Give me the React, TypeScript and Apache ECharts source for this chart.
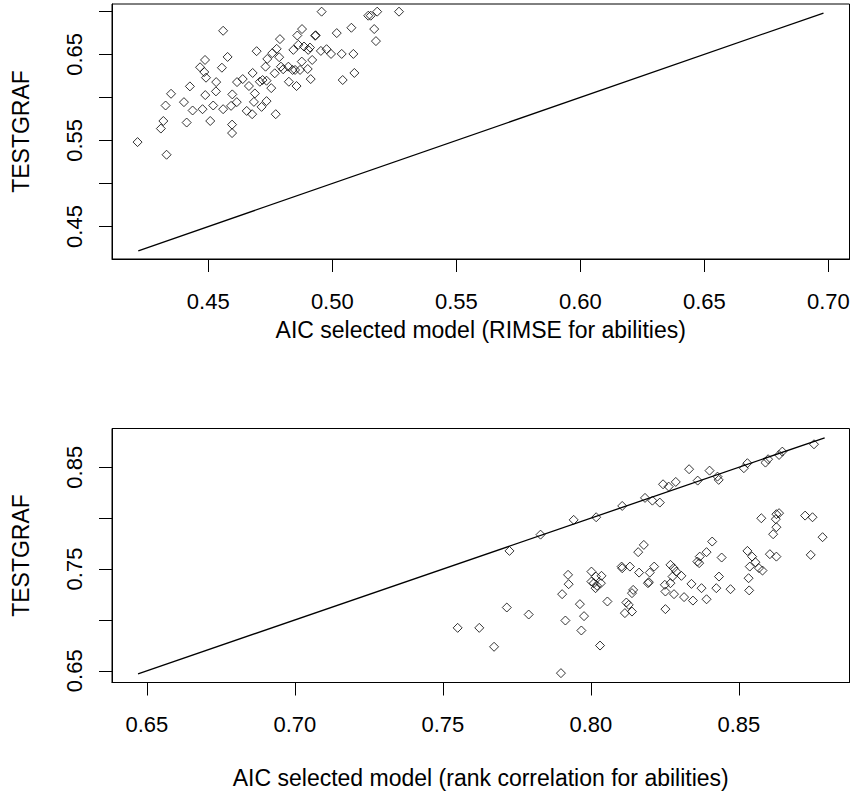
import React, { useEffect, useRef } from "react";
import * as echarts from "echarts";

// Top panel: AIC selected model (RIMSE for abilities) vs TESTGRAF
const topAic = [
  0.4215, 0.4332, 0.4309, 0.4319, 0.4328, 0.4350, 0.4426, 0.4402, 0.4413, 0.4437,
  0.4488, 0.4477, 0.4508, 0.4520, 0.4531, 0.4532, 0.4491, 0.4484, 0.4467, 0.4487,
  0.4555, 0.4578, 0.4560, 0.4560, 0.4596, 0.4596, 0.4592, 0.4597, 0.4615, 0.4616,
  0.4639, 0.4664, 0.4679, 0.4655, 0.4677, 0.4684, 0.4688, 0.4708, 0.4719, 0.4715,
  0.4735, 0.4735, 0.4754, 0.4772, 0.4695, 0.4731, 0.4738, 0.4758, 0.4776, 0.4789,
  0.4768, 0.4786, 0.4793, 0.4802, 0.4823, 0.4825, 0.4840, 0.4843, 0.4856, 0.4850,
  0.4859, 0.4878, 0.4863, 0.4877, 0.4870, 0.4886, 0.4903, 0.4910, 0.4901, 0.4913,
  0.4919, 0.4931, 0.4933, 0.4954, 0.4977, 0.4995, 0.5018, 0.5038, 0.5042, 0.5077,
  0.5085, 0.5089, 0.4957, 0.5145, 0.5155, 0.5181, 0.5169, 0.5176, 0.5269,
];
const topTestgraf = [
  0.5481, 0.5334, 0.5638, 0.5726, 0.5906, 0.6042, 0.6128, 0.5945, 0.5708, 0.5848,
  0.6027, 0.5863, 0.5726, 0.5906, 0.6070, 0.6178, 0.6229, 0.6295, 0.6350, 0.6435,
  0.6345, 0.6470, 0.6774, 0.5863, 0.5684, 0.5586, 0.5902, 0.6035, 0.5945, 0.6178,
  0.6213, 0.6132, 0.6284, 0.5843, 0.5805, 0.5948, 0.6046, 0.6182, 0.6202, 0.5890,
  0.5957, 0.6194, 0.6108, 0.5805, 0.6537, 0.6357, 0.6447, 0.6514, 0.6564, 0.6677,
  0.6280, 0.6467, 0.6357, 0.6327, 0.6357, 0.6182, 0.6319, 0.6552, 0.6132, 0.6319,
  0.6719, 0.6794, 0.6611, 0.6416, 0.6319, 0.6591, 0.6552, 0.6579, 0.6330, 0.6213,
  0.6435, 0.6716, 0.6722, 0.6540, 0.6560, 0.6505, 0.6747, 0.6505, 0.6202, 0.6809,
  0.6505, 0.6284, 0.6996, 0.6949, 0.6949, 0.6996, 0.6794, 0.6654, 0.6996,
];
const topLineEnds = [0.4218, 0.698];

// Bottom panel: AIC selected model (rank correlation for abilities) vs TESTGRAF
const bottomAic = [
  0.7725, 0.7830, 0.7942, 0.8018, 0.8106, 0.8183, 0.8208, 0.8233, 0.8244, 0.8263,
  0.8287, 0.8332, 0.8361, 0.8401, 0.8428, 0.8432, 0.8517, 0.8529, 0.8590, 0.8599,
  0.8636, 0.8647, 0.8754,
  0.8576, 0.8627, 0.8636, 0.8625, 0.8627, 0.8616, 0.8724, 0.8749, 0.8783, 0.8743,
  0.8605, 0.8627, 0.8529, 0.8545, 0.8537, 0.8556, 0.8568, 0.8580, 0.8533, 0.8410,
  0.8391, 0.8368, 0.8360, 0.8366, 0.8442, 0.8433, 0.8160, 0.8179, 0.8104, 0.8132,
  0.8163, 0.8199, 0.8214, 0.8196, 0.8269, 0.8280, 0.8289, 0.8306, 0.8276, 0.8250,
  0.8340, 0.8374, 0.8424, 0.8472, 0.7923, 0.8002, 0.8017, 0.8036, 0.8010, 0.8034,
  0.8143, 0.7550, 0.7623, 0.7673, 0.7716, 0.7790, 0.7899, 0.7903, 0.7925, 0.7914,
  0.7963, 0.7977, 0.7968, 0.8031, 0.8002, 0.8016, 0.8021, 0.8056, 0.8106, 0.8139,
  0.8120, 0.8128, 0.8115, 0.8139, 0.8193, 0.8252, 0.8252, 0.8269, 0.8281, 0.8315,
  0.8345, 0.8391, 0.8535,
];
const bottomTestgraf = [
  0.7678, 0.7838, 0.7983, 0.8009, 0.8120, 0.8199, 0.8172, 0.8153, 0.8333, 0.8310,
  0.8356, 0.8481, 0.8369, 0.8467, 0.8408, 0.8376, 0.8491, 0.8540, 0.8546, 0.8579,
  0.8621, 0.8654, 0.8726,
  0.7999, 0.8039, 0.8049, 0.7990, 0.7911, 0.7842, 0.8025, 0.8009, 0.7813, 0.7639,
  0.7646, 0.7622, 0.7678, 0.7622, 0.7524, 0.7567, 0.7509, 0.7485, 0.7410, 0.7770,
  0.7666, 0.7622, 0.7573, 0.7558, 0.7613, 0.7426, 0.7666, 0.7737, 0.7524, 0.7524,
  0.7465, 0.7465, 0.7524, 0.7371, 0.7541, 0.7509, 0.7475, 0.7433, 0.7426, 0.7345,
  0.7354, 0.7312, 0.7312, 0.7302, 0.7443, 0.7475, 0.7426, 0.7433, 0.7361, 0.7361,
  0.7295, 0.6922, 0.6922, 0.6736, 0.7122, 0.7053, 0.6477, 0.7253, 0.7351, 0.6994,
  0.7155, 0.7037, 0.6896, 0.6748, 0.7377, 0.7312, 0.7335, 0.7181, 0.7508, 0.7263,
  0.7171, 0.7148, 0.7067, 0.7082, 0.7361, 0.7106, 0.7279, 0.7361, 0.7253, 0.7224,
  0.7190, 0.7203, 0.7290,
];
const bottomLineEnds = [0.647, 0.879];

// Axis ticks and labels
const topXTicks = [0.45, 0.5, 0.55, 0.6, 0.65, 0.7];
const topYTicks = [0.45, 0.5, 0.55, 0.6, 0.65, 0.7];
const topYLabels = [0.45, 0.55, 0.65];
const bottomXTicks = [0.65, 0.7, 0.75, 0.8, 0.85];
const bottomYTicks = [0.65, 0.7, 0.75, 0.8, 0.85];
const bottomYLabels = [0.65, 0.75, 0.85];

const topXName = "AIC selected model (RIMSE for abilities)";
const bottomXName = "AIC selected model (rank correlation for abilities)";
const yName = "TESTGRAF";

export default function App() {
  const ref = useRef<HTMLDivElement>(null);
  useEffect(() => {
    if (!ref.current) return;
    const chart = echarts.init(ref.current, null, { renderer: "svg" });
    const font = "'Liberation Sans', Arial, sans-serif";
    const black = "#000";
    const fmt = (v: number) => v.toFixed(2);

    const xAxis = (gridIndex: number, min: number, max: number, ticks: number[], labels: number[], name: string, nameGap: number) => ({
      type: "value",
      gridIndex,
      min,
      max,
      name,
      nameLocation: "middle",
      nameGap,
      nameTextStyle: { fontFamily: font, fontSize: 23, color: black },
      axisLine: { show: true, onZero: false, lineStyle: { color: black, width: 1 } },
      axisTick: { show: true, inside: false, length: 13, customValues: ticks, lineStyle: { color: black, width: 1 } },
      axisLabel: { show: true, customValues: labels, formatter: fmt, fontFamily: font, fontSize: 22, color: black, margin: 31 },
      splitLine: { show: false },
    });
    const yAxis = (gridIndex: number, min: number, max: number, ticks: number[], labels: number[]) => ({
      type: "value",
      gridIndex,
      min,
      max,
      name: yName,
      nameLocation: "middle",
      nameGap: 80,
      nameTextStyle: { fontFamily: font, fontSize: 23, color: black },
      axisLine: { show: true, onZero: false, lineStyle: { color: black, width: 1 } },
      axisTick: { show: true, inside: false, length: 13, customValues: ticks, lineStyle: { color: black, width: 1 } },
      axisLabel: { show: true, customValues: labels, formatter: fmt, rotate: 90, fontFamily: font, fontSize: 22, color: black, margin: 27 },
      splitLine: { show: false },
    });

    const scatter = (xs: number[], ys: number[], idx: number) => ({
      type: "scatter",
      xAxisIndex: idx,
      yAxisIndex: idx,
      symbol: "diamond",
      symbolSize: 9,
      data: xs.map((x, i) => [x, ys[i]]),
      itemStyle: { color: "rgba(0,0,0,0)", borderColor: black, borderWidth: 1 },
      silent: true,
      z: 3,
    });
    const line = (ends: number[], idx: number) => ({
      type: "line",
      xAxisIndex: idx,
      yAxisIndex: idx,
      data: ends.map((v) => [v, v]),
      symbol: "none",
      lineStyle: { color: black, width: 1.3 },
      silent: true,
      z: 2,
    });

    chart.setOption({
      animation: false,
      backgroundColor: "#fff",
      textStyle: { fontFamily: font },
      grid: [
        { left: 112, top: 4, width: 737.5, height: 255, show: true, borderColor: black, borderWidth: 1, backgroundColor: "transparent" },
        { left: 112, top: 428.5, width: 737.5, height: 254, show: true, borderColor: black, borderWidth: 1, backgroundColor: "transparent" },
      ],
      xAxis: [
        xAxis(0, 0.4112, 0.7085, topXTicks, topXTicks, topXName, 59),
        xAxis(1, 0.6382, 0.8874, bottomXTicks, bottomXTicks, bottomXName, 84),
      ],
      yAxis: [
        yAxis(0, 0.4123, 0.7085, topYTicks, topYLabels),
        yAxis(1, 0.6385, 0.8881, bottomYTicks, bottomYLabels),
      ],
      series: [
        scatter(topAic, topTestgraf, 0),
        line(topLineEnds, 0),
        scatter(bottomAic, bottomTestgraf, 1),
        line(bottomLineEnds, 1),
      ],
    });
    return () => chart.dispose();
  }, []);
  return (
    <div
      ref={ref}
      style={{ position: "absolute", left: 0, top: 0, width: 853, height: 794, background: "#fff" }}
    />
  );
}
